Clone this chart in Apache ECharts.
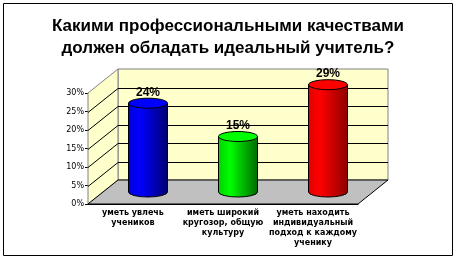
<!DOCTYPE html>
<html>
<head>
<meta charset="utf-8">
<script src="https://cdn.jsdelivr.net/npm/echarts@6/dist/echarts.min.js"></script>
<style>
  html, body { margin: 0; padding: 0; background: #fff; }
  #chart { width: 456px; height: 260px; }
</style>
</head>
<body>
<div id="chart"></div>
<script>
// данные
var categories = ['уметь увлечь\nучеников', 'иметь широкий\nкругозор, общую\nкультуру', 'уметь находить\nиндивидуальный\nподход к каждому\nученику'];
var values = [24, 15, 29];
var barColors = [
  ['#0000e0', '#0000ff', '#000070', '#0000ff'],
  ['#00d000', '#00ff00', '#006800', '#00ff00'],
  ['#e00000', '#ff0000', '#8c0000', '#ff0000']
];
var yTicks = [0, 5, 10, 15, 20, 25, 30];

var DX = 30, DY = -24;   // глубина 3D
var myChart = echarts.init(document.getElementById('chart'));

function wallsItem(params, api) {
  var x0 = api.coord([0, 0]);
  var bw = api.size([1, 0])[0];
  var left = x0[0] - bw / 2;
  var right = left + bw * categories.length;
  var y0 = api.coord([0, 0])[1];
  var yTop = api.coord([0, 30])[1];
  var children = [];
  // задняя стенка
  children.push({ type: 'polygon', shape: { points: [[left + DX, yTop + DY], [right + DX, yTop + DY], [right + DX, y0 + DY], [left + DX, y0 + DY]] },
    style: { fill: '#ffffcc', stroke: '#808080', lineWidth: 1 } });
  // боковая стенка
  children.push({ type: 'polygon', shape: { points: [[left, yTop], [left + DX, yTop + DY], [left + DX, y0 + DY], [left, y0]] },
    style: { fill: '#ffffcc', stroke: '#808080', lineWidth: 1 } });
  // пол
  children.push({ type: 'polygon', shape: { points: [[left, y0], [right, y0], [right + DX, y0 + DY], [left + DX, y0 + DY]] },
    style: { fill: '#c0c0c0', stroke: '#000', lineWidth: 1 } });
  // линии сетки
  yTicks.forEach(function (t) {
    if (t === 0 || t === 30) return;
    var y = Math.round(api.coord([0, t])[1]) + 0.5;
    children.push({ type: 'polyline', shape: { points: [[left, y], [left + DX, y + DY], [right + DX, y + DY]] },
      style: { fill: null, stroke: '#000', lineWidth: 1 } });
  });
  return { type: 'group', children: children };
}

function cylinderItem(params, api) {
  var i = api.value(0);
  var v = api.value(1);
  var top = api.coord([i, v]);
  var bot = api.coord([i, 0]);
  var cx = top[0] + DX / 2;
  var yT = top[1] + DY / 2;
  var yB = bot[1] + DY / 2;
  var rx = 19.5, ry = 5;
  var c = barColors[i];
  var body = 'M' + (cx - rx) + ',' + yT + ' L' + (cx - rx) + ',' + yB +
    ' A' + rx + ',' + ry + ' 0 0 0 ' + (cx + rx) + ',' + yB +
    ' L' + (cx + rx) + ',' + yT + ' Z';
  return {
    type: 'group',
    children: [
      { type: 'path', shape: { pathData: body },
        style: { fill: new echarts.graphic.LinearGradient(0, 0, 1, 0, [
          { offset: 0, color: c[0] }, { offset: 0.3, color: c[1] }, { offset: 1, color: c[2] }]),
          stroke: '#000', lineWidth: 1 } },
      { type: 'ellipse', shape: { cx: cx, cy: yT, rx: rx, ry: ry },
        style: { fill: c[3], stroke: '#000', lineWidth: 1 } },
      { type: 'text', x: cx, y: yT - ry,
        style: { text: v + '%', fill: '#000', font: 'bold 12px Arial', align: 'center', verticalAlign: 'bottom' } }
    ]
  };
}

var option = {
  animation: false,
  title: {
    text: 'Какими профессиональными качествами\nдолжен обладать идеальный учитель?',
    left: 'center',
    top: 10,
    textStyle: { fontFamily: 'Arial', fontWeight: 'bold', fontSize: 17, lineHeight: 22, color: '#000' }
  },
  graphic: [
    { type: 'rect', shape: { x: 3.5, y: 3.5, width: 449, height: 252 }, style: { fill: null, stroke: '#000', lineWidth: 1 }, silent: true }
  ],
  grid: { left: 88, right: 98, top: 93, bottom: 56 },
  xAxis: {
    type: 'category',
    data: categories,
    axisLine: { lineStyle: { color: '#000' } },
    axisTick: { length: 3, lineStyle: { color: '#000' } },
    axisLabel: { interval: 0, margin: 4, color: '#000', fontFamily: 'DejaVu Sans', fontWeight: 'bold', fontSize: 8, lineHeight: 10 },
    splitLine: { show: false }
  },
  yAxis: {
    type: 'value',
    min: 0,
    max: 30,
    interval: 5,
    axisLine: { show: true, lineStyle: { color: '#000' } },
    axisTick: { show: true, length: 3, lineStyle: { color: '#000' } },
    axisLabel: { formatter: '{value}%', margin: 4, color: '#000', fontFamily: 'DejaVu Sans', fontSize: 8 },
    splitLine: { show: false }
  },
  series: [
    { type: 'custom', renderItem: wallsItem, data: [[0, 0]], z: 1, silent: true },
    { type: 'custom', renderItem: cylinderItem, data: values.map(function (v, i) { return [i, v]; }), z: 3 }
  ]
};
myChart.setOption(option);
</script>
</body>
</html>
